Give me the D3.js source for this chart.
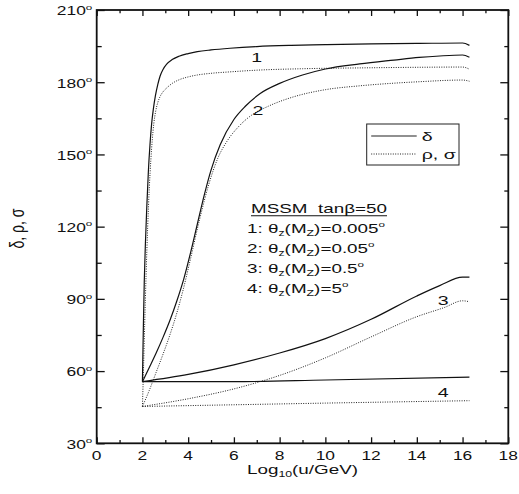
<!DOCTYPE html>
<html>
<head>
<meta charset="utf-8">
<script src="https://cdn.jsdelivr.net/npm/d3@7"></script>
<style>
body { margin: 0; background: #fff; }
svg { display: block; }
text { font-family: Arial, "Liberation Sans", Helvetica, sans-serif; fill: #111; }
</style>
</head>
<body>
<div id="chart"></div>
<script>
// tick values
const xTicks = [0, 2, 4, 6, 8, 10, 12, 14, 16, 18];
const xMinor = [1, 3, 5, 7, 9, 11, 13, 15, 17];
const yTicks = [30, 60, 90, 120, 150, 180, 210];
const yMinor = [45, 75, 105, 135, 165, 195];

// curves: [log10(u/GeV), angle in degrees]
const delta1 = [[2,55.6],[2.04,78],[2.08,97],[2.13,113],[2.19,128],[2.26,143],[2.33,154],[2.4,162.5],[2.48,169],
  [2.57,174.5],[2.67,179],[2.77,182.5],[2.9,185.3],[3.06,187.5],[3.3,189.4],[3.6,190.8],[4,191.9],[4.4,192.7],
  [5,193.4],[5.83,194.1],[7,194.8],[8.5,195.3],[10,195.6],[12,195.9],[14,196.1],[16,196.3],[16.3,195.3]];
const rho1 = [[2,45.3],[2.05,62],[2.1,80],[2.16,100],[2.23,120],[2.3,136],[2.37,148],[2.43,156],[2.5,163],
  [2.58,168],[2.67,171.5],[2.77,174],[2.9,176],[3.06,177.6],[3.3,179.5],[3.6,181],[4,182.2],[4.4,183],[5,183.7],
  [5.83,184.3],[7,185],[9,185.6],[12,186],[14,186.2],[16,186.3],[16.3,185.4]];
const delta2 = [[2,55.6],[2.3,61.5],[2.6,67.5],[2.9,74],[3.2,81],[3.5,89],[3.8,98],[4.1,109],[4.4,121],[4.7,133],
  [5,143.5],[5.4,154],[6,164.5],[6.5,170],[7.15,175.3],[8,179.5],[9,183],[10,185.5],[11.5,187.6],[13,189.2],
  [14.1,190.3],[15,190.9],[16,191.3],[16.3,190.4]];
const rho2 = [[2,45.3],[2.3,52],[2.6,59.5],[2.9,67],[3.2,75],[3.5,84],[3.8,94.5],[4.1,106.5],[4.5,123],[4.9,137.5],
  [5.3,148.5],[5.7,155.5],[6.2,161.5],[6.8,166.5],[7.5,170],[8.6,173.9],[10,176.9],[11.5,178.5],[13,179.6],
  [14.1,180.2],[16,180.9],[16.3,180.4]];
const delta3 = [[2,55.6],[4,58.6],[6,62.6],[8,67.5],[10,73.5],[12,81.5],[14,91.2],[15,95.5],[16,99],[16.3,99]];
const rho3 = [[2,45.3],[4,48.5],[6,52.6],[8,58.2],[10,65.5],[12,74.2],[14,82.6],[15.2,86.4],[16,89.2],[16.3,88.8]];
const delta4 = [[2,55.6],[6,55.6],[10,56.3],[16.3,57.5]];
const rho4 = [[2,45.3],[6,46],[10,46.7],[16.3,47.7]];

const solidCurves = [delta1, delta2, delta3, delta4];
const dottedCurves = [rho1, rho2, rho3, rho4];

// curve numbers and where they sit (data coords)
const curveIds = ['1', '2', '3', '4'];
const curveLabelAt = [[7.0, 190.3], [7.05, 168.5], [15.15, 89.6], [15.15, 51.4]];

// annotation
const noteTitle = 'MSSM  tan\u03b2=50';
const noteAngles = ['0.005', '0.05', '0.5', '5'];
const legendNames = ['\u03b4', '\u03c1, \u03c3'];

const svgwidth = 519;
const svgheight = 494;
const margin = { top: 10, bottom: 50.7, left: 96.7, right: 10.7 };
const width = svgwidth - margin.left - margin.right;
const height = svgheight - margin.top - margin.bottom;
const SX = 1.45; // the original lettering is stretched sideways

const svg = d3.select('#chart').append('svg')
  .attr('width', svgwidth).attr('height', svgheight);

const chartGroup = svg.append('g')
  .attr('transform', `translate(${margin.left},${margin.top})`);

const xScale = d3.scaleLinear().domain([0, 18]).range([0, width]);
const yScale = d3.scaleLinear().domain([30, 210]).range([height, 0]);

// ticks, all pointing inward
function tickAxis(axis, tx, ty) {
  chartGroup.append('g')
    .attr('transform', `translate(${tx},${ty})`)
    .call(axis)
    .call(g => g.select('.domain').remove())
    .call(g => g.selectAll('line').attr('stroke', '#111').attr('stroke-width', 1.3));
}
tickAxis(d3.axisBottom(xScale).tickValues(xTicks).tickSize(-6).tickFormat(''), 0, height);
tickAxis(d3.axisBottom(xScale).tickValues(xMinor).tickSize(-3.3).tickFormat(''), 0, height);
tickAxis(d3.axisTop(xScale).tickValues(xTicks).tickSize(-6).tickFormat(''), 0, 0);
tickAxis(d3.axisTop(xScale).tickValues(xMinor).tickSize(-3.3).tickFormat(''), 0, 0);
tickAxis(d3.axisLeft(yScale).tickValues(yTicks).tickSize(-8).tickFormat(''), 0, 0);
tickAxis(d3.axisLeft(yScale).tickValues(yMinor).tickSize(-5).tickFormat(''), 0, 0);
tickAxis(d3.axisRight(yScale).tickValues(yTicks).tickSize(-8).tickFormat(''), width, 0);
tickAxis(d3.axisRight(yScale).tickValues(yMinor).tickSize(-4).tickFormat(''), width, 0);

// frame
chartGroup.append('rect')
  .attr('width', width).attr('height', height)
  .attr('fill', 'none').attr('stroke', '#111').attr('stroke-width', 1.8);

// tick labels
xTicks.forEach(v => {
  chartGroup.append('text')
    .attr('transform', `translate(${xScale(v)},${height + 16.5}) scale(${SX},1)`)
    .attr('text-anchor', 'middle')
    .style('font-size', '12px')
    .text(v);
});
yTicks.forEach(v => {
  const t = chartGroup.append('text')
    .attr('transform', `translate(-4.4,${yScale(v) + 5.4}) scale(${SX},1)`)
    .attr('text-anchor', 'end')
    .style('font-size', '12px');
  t.append('tspan').text(v);
  t.append('tspan').attr('dy', -5.7).style('font-size', '8px').text('o');
});

// curves
const line = d3.line()
  .x(d => xScale(d[0]))
  .y(d => yScale(d[1]))
  .curve(d3.curveMonotoneX);

solidCurves.forEach(c => {
  chartGroup.append('path').datum(c)
    .attr('d', line).attr('fill', 'none')
    .attr('stroke', '#111').attr('stroke-width', 1.2);
});
dottedCurves.forEach(c => {
  chartGroup.append('path').datum(c)
    .attr('d', line).attr('fill', 'none')
    .attr('stroke', '#222').attr('stroke-width', 1)
    .attr('stroke-dasharray', '1,1.4');
});

// curve numbers
curveIds.forEach((id, i) => {
  chartGroup.append('text')
    .attr('transform', `translate(${xScale(curveLabelAt[i][0])},${yScale(curveLabelAt[i][1]) + 4.8}) scale(${SX},1)`)
    .attr('text-anchor', 'middle')
    .style('font-size', '13.5px')
    .text(id);
});

// legend box
const legend = chartGroup.append('g').attr('transform', `translate(${366.7 - margin.left},${124 - margin.top})`);
legend.append('rect')
  .attr('width', 92.3).attr('height', 41)
  .attr('fill', '#fff').attr('stroke', '#222').attr('stroke-width', 1);
legendNames.forEach((name, i) => {
  const ly = 12 + i * 18;
  legend.append('line')
    .attr('x1', 4.5).attr('x2', 50).attr('y1', ly).attr('y2', ly)
    .attr('stroke', '#222').attr('stroke-width', i === 0 ? 1.1 : 1)
    .attr('stroke-dasharray', i === 0 ? null : '1,1.4');
  legend.append('text')
    .attr('transform', `translate(55,${ly + 4.5}) scale(${SX},1)`)
    .style('font-size', '13.5px')
    .text(name);
});

// annotation block
const note = chartGroup.append('g').attr('transform', `translate(${-margin.left},${-margin.top})`);
const title = note.append('text')
  .attr('transform', `translate(251,212.7) scale(${SX},1)`)
  .style('font-size', '13px')
  .style('white-space', 'pre')
  .text(noteTitle);
const tw = title.node().getComputedTextLength() * SX;
note.append('line')
  .attr('x1', 251).attr('x2', 251 + tw)
  .attr('y1', 215.8).attr('y2', 215.8)
  .attr('stroke', '#111').attr('stroke-width', 1.1);

noteAngles.forEach((a, i) => {
  const t = note.append('text')
    .attr('transform', `translate(247,${233.3 + i * 20}) scale(${SX},1)`)
    .style('font-size', '13px');
  t.append('tspan').text(`${i + 1}: \u03b8`);
  t.append('tspan').attr('dy', 3).style('font-size', '8.5px').text('z');
  t.append('tspan').attr('dy', -3).text('(M');
  t.append('tspan').attr('dy', 3).style('font-size', '8.5px').text('Z');
  t.append('tspan').attr('dy', -3).text(`)=${a}`);
  t.append('tspan').attr('dy', -6).style('font-size', '8px').text('o');
});

// axis titles
const xTitle = svg.append('text')
  .attr('transform', `translate(${margin.left + width / 2},473.5) scale(${SX},1)`)
  .attr('text-anchor', 'middle')
  .style('font-size', '13px');
xTitle.append('tspan').text('Log');
xTitle.append('tspan').attr('dy', 3).style('font-size', '8.5px').text('10');
xTitle.append('tspan').attr('dy', -3).text('(u/GeV)');

svg.append('text')
  .attr('transform', `translate(23.5,228.5) scale(${SX},1) rotate(-90)`)
  .attr('text-anchor', 'middle')
  .style('font-size', '14px')
  .text('\u03b4, \u03c1, \u03c3');
</script>
</body>
</html>
